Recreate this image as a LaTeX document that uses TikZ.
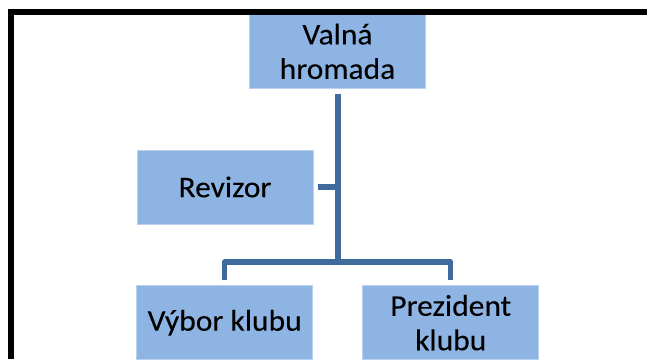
\documentclass[tikz,border=0pt]{standalone}
\usepackage{fontspec}
\setmainfont{Carlito}[FakeStretch=1.05,FakeBold=0.12]
\definecolor{boxfill}{HTML}{8EB4E3}
\definecolor{boxedge}{HTML}{B9D0EE}
\definecolor{connblue}{HTML}{3F6A9C}
\tikzset{
  orgbox/.style={rectangle, fill=boxfill, draw=boxedge, line width=0.8pt,
    minimum width=176pt, minimum height=74pt, inner sep=0pt, align=center,
    font=\fontsize{30}{34.5}\selectfont, text=black},
  conn/.style={draw=connblue, line width=5.5pt, line join=round, line cap=butt},
  frame/.style={draw=black, line width=6pt, line join=miter}
}
\begin{document}
\begin{tikzpicture}[x=1pt,y=1pt]
\useasboundingbox (0,0) rectangle (647,359);
\node[orgbox] (valna) at (337.5,307.7) {Valná\\hromada};
\node[orgbox] (revizor) at (225,172) {Revizor};
\node[orgbox] (vybor) at (224.7,36.3) {Výbor klubu};
\node[orgbox] (prez) at (450.7,36.3) {Prezident\\klubu};
\coordinate (hub) at (338,97);
\draw[conn] ([xshift=0.5pt,yshift=-5.7pt]valna.south) -- (hub);
\draw[conn] ([yshift=5pt]vybor.north) -- (vybor.north |- hub) -- (prez.north |- hub) -- ([yshift=5pt]prez.north);
\draw[conn] ([xshift=5pt]revizor.east) -- (revizor.east -| hub);
\coordinate (fbl) at (11,0);
\coordinate (ftl) at (11,347);
\coordinate (ftr) at (647,347);
\draw[frame] (fbl) -- (ftl) -- (ftr);
\end{tikzpicture}
\end{document}
